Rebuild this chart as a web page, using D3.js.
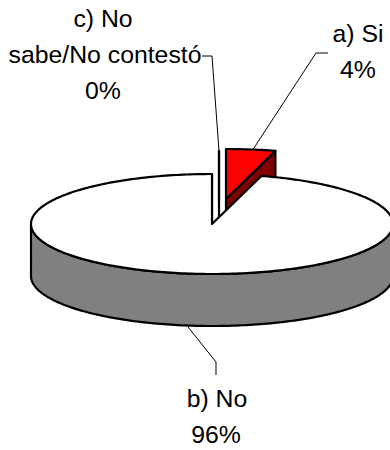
<!DOCTYPE html>
<html>
<head>
<meta charset="utf-8">
<script src="https://cdn.jsdelivr.net/npm/d3@7"></script>
<style>
  html, body { margin: 0; padding: 0; background: #fff; }
  svg { display: block; }
  text { font-family: "Liberation Sans", Arial, sans-serif; font-size: 24.8px; fill: #000; text-anchor: middle; }
</style>
</head>
<body>
<div id="chart"></div>
<script>
const categories = ['a) Si', 'b) No', 'c) No sabe/No contestó'];
const values = [4.4, 95.6, 0];
const percentLabels = ['4%', '96%', '0%'];
const topColors = ['#ff0000', '#ffffff', '#ffffff'];
const sideColors = ['#800000', '#808080', '#808080'];

const width = 390;
const height = 450;
const rx = 181;
const ry = 50;
const depth = 52;
const cx = 212;
const cy = 224;

// how far each slice is pulled out of the pie
const explode = [[14, -25], [0, 0], [7, -23]];
// draw order, the big slice goes over the pulled out ones
const drawOrder = [2, 0, 1];

const labelLines = [
  [{ text: 'a) Si', x: 358, y: 42 }, { text: '4%', x: 358, y: 78 }],
  [{ text: 'b) No', x: 217, y: 407 }, { text: '96%', x: 216, y: 443 }],
  [{ text: 'c) No', x: 103, y: 27 }, { text: 'sabe/No contestó', x: 105, y: 63 }, { text: '0%', x: 103, y: 99 }]
];
const leaders = [
  [[328, 53], [316, 53], [252, 151]],
  [[188, 327], [216, 362], [216, 375]],
  [[202, 56], [212, 56], [219, 151]]
];

const svg = d3.select('#chart').append('svg').attr('width', width).attr('height', height);

const arcs = d3.pie().sort(null).startAngle(0).endAngle(2 * Math.PI)(values);
const project = (a, ox, oy) => [cx + ox + rx * Math.sin(a), cy + oy - ry * Math.cos(a)];
const line = d3.line();

svg.append('g').selectAll('path').data(leaders).join('path')
  .attr('d', d => line(d))
  .attr('fill', 'none')
  .attr('stroke', '#000')
  .attr('stroke-width', 1);

drawOrder.forEach((i) => {
  const d = arcs[i];
  const [ox, oy] = explode[i];
  const steps = Math.max(1, Math.ceil((d.endAngle - d.startAngle) / 0.02));
  const angles = d3.range(steps + 1).map((k) => d.startAngle + (d.endAngle - d.startAngle) * k / steps);
  const rim = angles.map((a) => project(a, ox, oy));
  const apex = [cx + ox, cy + oy];
  const g = svg.append('g')
    .attr('stroke', '#000')
    .attr('stroke-width', 2.2)
    .attr('stroke-linejoin', 'round');

  // cut wall on the closing edge of the slice
  const last = rim[rim.length - 1];
  g.append('path')
    .attr('d', line([apex, last, [last[0], last[1] + depth], [apex[0], apex[1] + depth]]) + 'Z')
    .attr('fill', sideColors[i]);

  // outer wall, only the front part of the rim faces the viewer
  const front = rim.filter((p, k) => Math.cos(angles[k]) <= 0);
  if (front.length > 1) {
    const low = front.map((p) => [p[0], p[1] + depth]).reverse();
    g.append('path').attr('d', line(front.concat(low)) + 'Z').attr('fill', sideColors[i]);
  }

  g.append('path').attr('d', line([apex].concat(rim)) + 'Z').attr('fill', topColors[i]);
});

labelLines.forEach((lines) => {
  svg.append('g').selectAll('text').data(lines).join('text')
    .attr('x', d => d.x)
    .attr('y', d => d.y)
    .text(d => d.text);
});
</script>
</body>
</html>
